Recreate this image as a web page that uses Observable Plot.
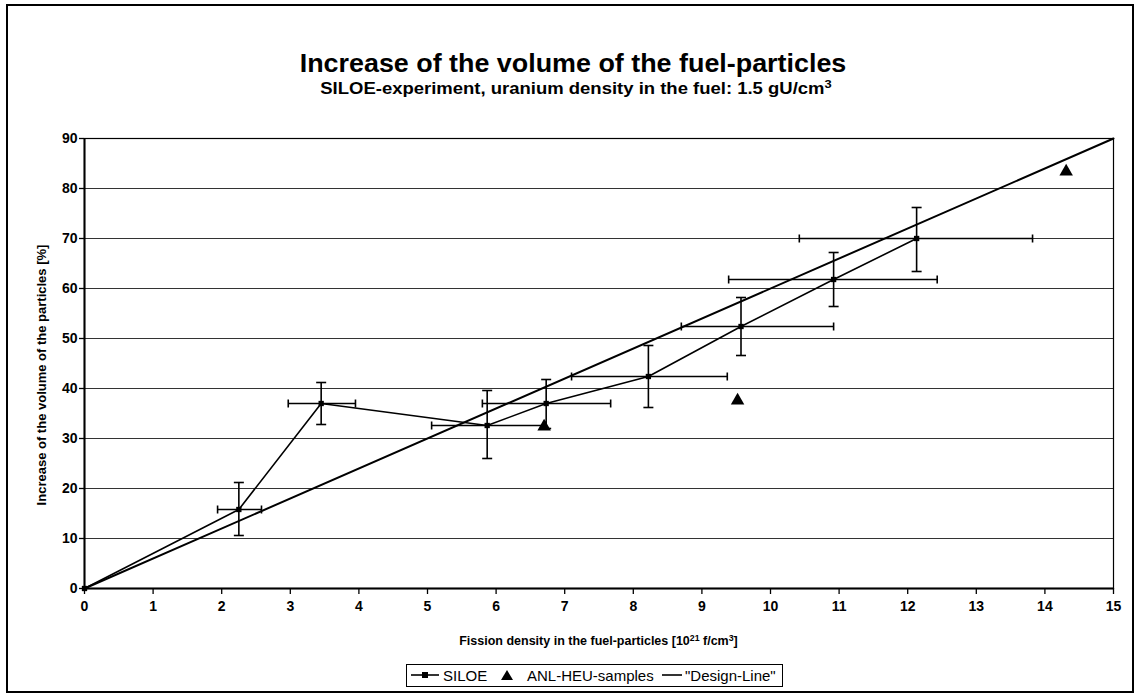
<!DOCTYPE html>
<html>
<head>
<meta charset="utf-8">
<script src="https://cdn.jsdelivr.net/npm/d3@7"></script>
<script src="https://cdn.jsdelivr.net/npm/@observablehq/plot@0.6"></script>
<style>
  html, body { margin: 0; padding: 0; background: #fff; }
  #wrap { position: relative; width: 1138px; height: 697px; background: #fff; font-family: "Liberation Sans", Arial, sans-serif; color: #000; overflow: hidden; }
  #border { position: absolute; left: 6px; top: 4px; width: 1124px; height: 685px; border: 2px solid #000; }
  #chart { position: absolute; left: 0; top: 0; }
  .t { position: absolute; white-space: nowrap; font-weight: bold; }
  #title { left: 0; width: 1146px; text-align: center; top: 51px; font-size: 25px; line-height: 25px; transform: scaleX(1.075); }
  #subtitle { left: 0; width: 1152px; text-align: center; top: 80px; font-size: 16.5px; line-height: 16px; transform: scaleX(1.12); }
  #xtitle { left: 84px; width: 1029px; text-align: center; top: 634px; font-size: 12.5px; line-height: 14px; }
  #ytitle { left: 41px; top: 375px; font-size: 13px; line-height: 13px; transform: translate(-50%, -50%) rotate(-90deg); }
  sup { font-size: 70%; line-height: 0; vertical-align: 0.5em; }
  #legend { position: absolute; left: 406px; top: 664px; width: 375px; height: 21px; border: 1px solid #000; font-size: 15px; white-space: nowrap; }
  #legend svg, #legend span { position: absolute; display: block; }
  #legend span { top: 2px; line-height: 17px; }
</style>
</head>
<body>
<div id="wrap">
  <div id="chart"></div>
  <div id="border"></div>
  <div class="t" id="title">Increase of the volume of the fuel-particles</div>
  <div class="t" id="subtitle">SILOE-experiment, uranium density in the fuel: 1.5 gU/cm<sup>3</sup></div>
  <div class="t" id="xtitle">Fission density in the fuel-particles [10<sup>21</sup> f/cm<sup>3</sup>]</div>
  <div class="t" id="ytitle">Increase of the volume of the particles [%]</div>
  <div id="legend"></div>
</div>
<script>
// ---- data ----
const siloeX = [0, 2.25, 3.45, 5.87, 6.73, 8.22, 9.57, 10.92, 12.13];
const siloeY = [0, 15.8, 37.0, 32.6, 37.0, 42.4, 52.4, 61.8, 70.0];
const siloeYLow  = [null, 10.6, 32.8, 26.0, 32.0, 36.2, 46.6, 56.4, 63.4];
const siloeYHigh = [null, 21.2, 41.2, 39.6, 41.8, 48.6, 58.2, 67.2, 76.2];
const siloeXLow  = [null, 1.94, 2.97, 5.06, 5.80, 7.10, 8.70, 9.39, 10.42];
const siloeXHigh = [null, 2.58, 3.95, 6.72, 7.67, 9.37, 10.92, 12.43, 13.82];

const anlX = [6.70, 9.52, 14.31];
const anlY = [32.4, 37.6, 83.4];

const designX = [0, 15];
const designY = [0, 90];

const xTicks = [0,1,2,3,4,5,6,7,8,9,10,11,12,13,14,15];
const yTicks = [0,10,20,30,40,50,60,70,80,90];
const gridTicks = [10,20,30,40,50,60,70,80];

const legendLabels = ["SILOE", "ANL-HEU-samples", "\"Design-Line\""];

// ---- tables ----
const siloe = siloeX.map((x, i) => ({x, y: siloeY[i], ylo: siloeYLow[i], yhi: siloeYHigh[i], xlo: siloeXLow[i], xhi: siloeXHigh[i]}));
const bars = siloe.filter(d => d.ylo != null);
const anl = anlX.map((x, i) => ({x, y: anlY[i]}));
const design = designX.map((x, i) => ({x, y: designY[i]}));

const capH = { draw(ctx, size) { const r = Math.sqrt(size / Math.PI); ctx.moveTo(-r, 0); ctx.lineTo(r, 0); } };
const capV = { draw(ctx, size) { const r = Math.sqrt(size / Math.PI); ctx.moveTo(0, -r); ctx.lineTo(0, r); } };

const chart = Plot.plot({
  width: 1138,
  height: 697,
  marginLeft: 84,
  marginRight: 25,
  marginTop: 138,
  marginBottom: 109,
  style: { fontFamily: "'Liberation Sans', Arial, sans-serif", fontSize: "14px", fontWeight: "bold", color: "#000", background: "transparent" },
  x: { domain: [0, 15] },
  y: { domain: [0, 90] },
  marks: [
    Plot.gridY(gridTicks, { stroke: "#333", strokeOpacity: 1, strokeWidth: 1 }),
    Plot.frame({ stroke: "#000", strokeWidth: 1.2 }),
    Plot.axisX(xTicks, { tickSize: 6, tickPadding: 7, tickFormat: d3.format("d"), label: null, fontSize: 14, fontWeight: "bold", strokeWidth: 1.3 }),
    Plot.axisY(yTicks, { tickSize: 5, tickPadding: 2, tickFormat: d3.format("d"), label: null, fontSize: 14, fontWeight: "bold", strokeWidth: 1.3 }),
    Plot.ruleY([0], { stroke: "#000", strokeWidth: 2 }),
    Plot.ruleX([0], { stroke: "#000", strokeWidth: 2 }),
    Plot.line(design, { x: "x", y: "y", stroke: "#000", strokeWidth: 2 }),
    Plot.line(siloe, { x: "x", y: "y", stroke: "#000", strokeWidth: 1.6 }),
    Plot.link(bars, { x1: "x", x2: "x", y1: "ylo", y2: "yhi", stroke: "#000", strokeWidth: 1.6 }),
    Plot.link(bars, { x1: "xlo", x2: "xhi", y1: "y", y2: "y", stroke: "#000", strokeWidth: 1.6 }),
    Plot.dot(bars, { x: "x", y: "ylo", symbol: capH, r: 5, stroke: "#000", strokeWidth: 1.6, fill: "none" }),
    Plot.dot(bars, { x: "x", y: "yhi", symbol: capH, r: 5, stroke: "#000", strokeWidth: 1.6, fill: "none" }),
    Plot.dot(bars, { x: "xlo", y: "y", symbol: capV, r: 4, stroke: "#000", strokeWidth: 1.6, fill: "none" }),
    Plot.dot(bars, { x: "xhi", y: "y", symbol: capV, r: 4, stroke: "#000", strokeWidth: 1.6, fill: "none" }),
    Plot.dot(siloe, { x: "x", y: "y", symbol: "square", r: 3, fill: "#000", stroke: "none" }),
    Plot.dot(anl, { x: "x", y: "y", symbol: "triangle", r: 5, fill: "#000", stroke: "none" })
  ]
});
document.getElementById("chart").appendChild(chart);

// ---- legend ----
const lg = document.getElementById("legend");
lg.innerHTML =
  `<svg style="left:3px;top:5px" width="30" height="10"><line x1="1" y1="5" x2="29" y2="5" stroke="#000" stroke-width="1.6"/><rect x="12" y="2" width="6" height="6" fill="#000"/></svg>` +
  `<span style="left:36px">${legendLabels[0]}</span>` +
  `<svg style="left:93px;top:4px" width="14" height="12"><path d="M7,1 L13,11 L1,11 Z" fill="#000"/></svg>` +
  `<span style="left:120px">${legendLabels[1]}</span>` +
  `<svg style="left:254px;top:5px" width="22" height="10"><line x1="1" y1="5" x2="21" y2="5" stroke="#000" stroke-width="1.6"/></svg>` +
  `<span style="left:278px">${legendLabels[2]}</span>`;
</script>
</body>
</html>
